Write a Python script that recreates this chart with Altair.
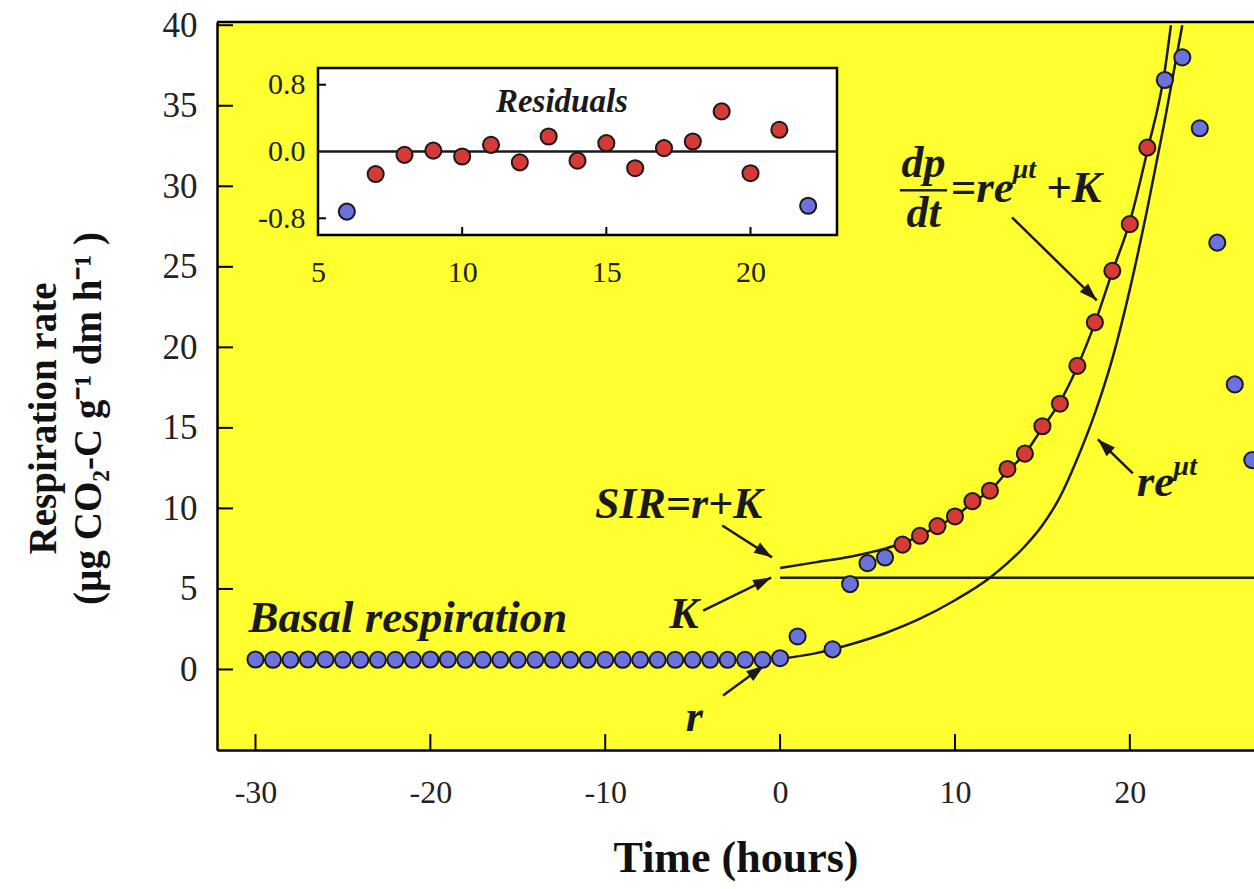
import altair as alt
import pandas as pd

# ---------------- values ----------------
basal_hours = [-30, -29, -28, -27, -26, -25, -24, -23, -22, -21, -20, -19, -18, -17, -16,
               -15, -14, -13, -12, -11, -10, -9, -8, -7, -6, -5, -4, -3, -2, -1, 0]
basal_rate = [0.62, 0.6, 0.6, 0.62, 0.62, 0.6, 0.6, 0.6, 0.6, 0.6, 0.62, 0.62, 0.6, 0.6, 0.6,
              0.6, 0.6, 0.6, 0.6, 0.6, 0.6, 0.6, 0.6, 0.6, 0.6, 0.6, 0.6, 0.6, 0.6, 0.6, 0.7]
early_hours = [1, 3, 4, 5, 6]
early_rate = [2.05, 1.25, 5.3, 6.6, 6.95]
fit_hours = [7, 8, 9, 10, 11, 12, 13, 14, 15, 16, 17, 18, 19, 20, 21]
fit_rate = [7.75, 8.3, 8.9, 9.5, 10.45, 11.1, 12.45, 13.4, 15.1, 16.5, 18.85, 21.55, 24.75, 27.65, 32.4]
late_hours = [22, 23, 24, 25, 26, 27]
late_rate = [36.6, 38.0, 33.6, 26.5, 17.7, 13.0]

res_blue_hours = [6, 22]
res_blue = [-0.72, -0.65]
res_red_hours = [7, 8, 9, 10, 11, 12, 13, 14, 15, 16, 17, 18, 19, 20, 21]
res_red = [-0.27, -0.04, 0.01, -0.06, 0.08, -0.13, 0.18, -0.11, 0.10, -0.20, 0.04, 0.12, 0.48, -0.26, 0.26]

total_curve_hours = [0, 2, 4, 6, 7, 8, 9, 10, 11, 12, 13, 14, 15, 16, 17, 18, 19, 20, 21, 22, 22.35]
total_curve_rate = [6.3, 6.65, 7.0, 7.5, 7.85, 8.3, 8.9, 9.5, 10.35, 11.1, 12.3, 13.4, 15.0, 16.6,
                    18.8, 21.5, 24.7, 27.8, 32.2, 37.2, 40.0]
growth_curve_hours = [0, 2, 4, 6, 8, 10, 12, 13, 14, 15, 16, 17, 18, 19, 20, 21, 22, 23]
growth_curve_rate = [0.65, 1.0, 1.55, 2.25, 3.15, 4.3, 5.7, 6.6, 7.65, 8.95, 10.7, 13.1, 15.9, 19.3,
                     23.6, 28.6, 34.1, 40.0]
k_line_hours = [0, 27.1]
k_line_rate = [5.7, 5.7]

x_ticks = [-30, -20, -10, 0, 10, 20]
y_ticks = [0, 5, 10, 15, 20, 25, 30, 35, 40]
inset_x_labels = [5, 10, 15, 20]
inset_x_ticks = [10, 15, 20]
inset_y_labels = [-0.8, 0.0, 0.8]
inset_y_ticks = [-0.8, 0.8]

# annotations (text, hours, rate)
big_left_text = ["Basal respiration", "=re", "+K", "re"]
big_left_x = [-30.4, 9.75, 15.2, 20.4]
big_left_y = [2.35, 29.0, 29.0, 10.8]
big_center_text = ["SIR=r+K", "K", "r", "dp", "dt"]
big_center_x = [-5.8, -5.5, -4.9, 8.2, 8.2]
big_center_y = [9.4, 2.6, -3.8, 30.6, 27.5]
sup_text = ["μt", "μt"]
sup_x = [13.3, 22.5]
sup_y = [30.5, 12.1]
bar_x = [6.85]
bar_x2 = [9.55]
bar_y = [29.75]
arrow_tail_x = [-3.31, -4.40, -3.26, 13.26, 20.17]
arrow_tail_y = [8.94, 3.66, -1.61, 28.07, 12.17]
arrow_tip_x = [-0.46, -0.51, -0.91, 18.11, 18.17]
arrow_tip_y = [6.96, 5.71, 0.25, 22.92, 14.29]
arrow_angle = [122.6, 64.1, 53.8, 134.3, 314.2]
residual_title = ["Residuals"]
residual_title_x = [13.46]
residual_title_y = [0.47]

# ---------------- styling ----------------
SERIF = "Liberation Serif"
INK = "#1a1a1a"
BLUE = "#6b72dc"
RED = "#d63a36"
YELLOW = "#ffff30"
W, H = 1037, 728
ARROW = "M0,0L0.6,1.8L-0.6,1.8Z"

X_MAIN = alt.Scale(domain=[-32.2, 27.1], nice=False, zero=False)
Y_MAIN = alt.Scale(domain=[-5.0, 40.2], nice=False, zero=False)
X_IN = alt.Scale(domain=[5, 23], range=[101, 620], nice=False, zero=False)
Y_IN = alt.Scale(domain=[-1.0, 1.0], range=[213, 46], nice=False, zero=False)

AX_X = alt.Axis(orient="bottom", values=x_ticks, tickSize=0, grid=False,
                domainColor="black", domainWidth=2.5,
                labelFont=SERIF, labelFontSize=32, labelColor="#222", labelPadding=27,
                labelExpr="'' + datum.value", labelFlush=False, labelOverlap=False,
                title="Time (hours)", titleFont=SERIF, titleFontSize=44,
                titleFontWeight="bold", titleColor="#111", titlePadding=28)
AX_Y = alt.Axis(orient="left", values=y_ticks, tickSize=0, grid=False,
                domainColor="black", domainWidth=2.5,
                labelFont=SERIF, labelFontSize=35, labelColor="#222", labelPadding=20,
                labelFlush=False, labelOverlap=False,
                title=["Respiration rate", "(µg CO₂-C g⁻¹ dm h⁻¹ )"], titleFont=SERIF,
                titleFontSize=39, titleFontWeight="bold", titleColor="#111",
                titlePadding=54, titleLineHeight=45, titleY=396)
AX_XI = alt.Axis(orient="bottom", offset=-(H - 213), values=inset_x_labels, tickSize=0,
                 domain=False, grid=False, labelFont=SERIF, labelFontSize=30,
                 labelColor="#222", labelPadding=22, labelFlush=False, labelOverlap=False,
                 title=None)
AX_YI = alt.Axis(orient="left", offset=-101, values=inset_y_labels, tickSize=0,
                 domain=False, grid=False, format=".1f",
                 labelExpr="replace(datum.label, '\u2212', '-')",
                 labelFont=SERIF, labelFontSize=30, labelColor="#222", labelPadding=13,
                 labelFlush=False, labelOverlap=False, title=None)


def mx(f):
    return alt.X(f"{f}:Q", scale=X_MAIN, axis=AX_X)


def my(f):
    return alt.Y(f"{f}:Q", scale=Y_MAIN, axis=AX_Y)


def ix(f):
    return alt.X(f"{f}:Q", scale=X_IN, axis=AX_XI)


def iy(f):
    return alt.Y(f"{f}:Q", scale=Y_IN, axis=AX_YI)


# ---------------- main panel ----------------
top_border = alt.Chart(pd.DataFrame({"a": [0]})).mark_rule(color="black", strokeWidth=2.5).encode(
    x=alt.value(0), x2=alt.value(W), y=alt.value(0))

xtick_rules = alt.Chart(pd.DataFrame({"t": x_ticks})).mark_rule(color="black", strokeWidth=2).encode(
    x=mx("t"), y=alt.value(H), y2=alt.value(H - 16))
ytick_rules = alt.Chart(pd.DataFrame({"v": y_ticks})).mark_rule(color="black", strokeWidth=2).encode(
    y=my("v"), x=alt.value(0), x2=alt.value(16))

curves_df = pd.DataFrame({
    "t": total_curve_hours + growth_curve_hours + k_line_hours,
    "v": total_curve_rate + growth_curve_rate + k_line_rate,
    "curve": ["total"] * len(total_curve_hours) + ["growth"] * len(growth_curve_hours)
             + ["K"] * len(k_line_hours),
})
curves = alt.Chart(curves_df).mark_line(color=INK, strokeWidth=2.5, interpolate="monotone").encode(
    x=mx("t"), y=my("v"), detail="curve:N")

arrows_df = pd.DataFrame({"x": arrow_tail_x, "y": arrow_tail_y, "x2": arrow_tip_x,
                          "y2": arrow_tip_y, "angle": arrow_angle})
arrow_lines = alt.Chart(arrows_df).mark_rule(color=INK, strokeWidth=2.5).encode(
    x=mx("x"), y=my("y"), x2="x2:Q", y2="y2:Q")
arrow_heads = alt.Chart(arrows_df).mark_point(shape=ARROW, filled=True, size=400, color=INK,
                                              opacity=1).encode(
    x=mx("x2"), y=my("y2"), angle=alt.Angle("angle:Q", scale=None))

pts_df = pd.DataFrame({
    "t": basal_hours + early_hours + fit_hours + late_hours,
    "v": basal_rate + early_rate + fit_rate + late_rate,
    "grp": ["measured"] * (len(basal_hours) + len(early_hours)) + ["fitted"] * len(fit_hours)
           + ["measured"] * len(late_hours),
})
color_scale = alt.Scale(domain=["measured", "fitted"], range=[BLUE, RED])
points = alt.Chart(pts_df).mark_circle(size=260, opacity=1, stroke=INK, strokeWidth=2).encode(
    x=mx("t"), y=my("v"), color=alt.Color("grp:N", scale=color_scale, legend=None))

bar = alt.Chart(pd.DataFrame({"x": bar_x, "x2": bar_x2, "y": bar_y})).mark_rule(
    color=INK, strokeWidth=2.5).encode(x=mx("x"), x2="x2:Q", y=my("y"))


def text_layer(texts, xs, ys, size, align, fx, fy):
    df = pd.DataFrame({"label": texts, "x": xs, "y": ys})
    return alt.Chart(df).mark_text(font=SERIF, fontSize=size, fontStyle="italic",
                                   fontWeight="bold", align=align, baseline="alphabetic",
                                   color=INK).encode(x=fx("x"), y=fy("y"), text="label:N")


txt_left = text_layer(big_left_text, big_left_x, big_left_y, 45, "left", mx, my)
txt_center = text_layer(big_center_text, big_center_x, big_center_y, 44, "center", mx, my)
txt_sup = text_layer(sup_text, sup_x, sup_y, 28, "left", mx, my)

main = alt.layer(top_border, xtick_rules, ytick_rules, curves, arrow_lines, arrow_heads,
                 points, bar, txt_left, txt_center, txt_sup)

# ---------------- inset ----------------
box = alt.Chart(pd.DataFrame({"x0": [5], "x1": [23], "y0": [-1.0], "y1": [1.0]})).mark_rect(
    fill="white", stroke="black", strokeWidth=2.5).encode(
    x=ix("x0"), x2="x1:Q", y=iy("y0"), y2="y1:Q")
zero_line = alt.Chart(pd.DataFrame({"x0": [5], "x1": [23], "y": [0.0]})).mark_rule(
    color=INK, strokeWidth=2.5).encode(x=ix("x0"), x2="x1:Q", y=iy("y"))
in_xticks = alt.Chart(pd.DataFrame({"t": inset_x_ticks})).mark_rule(color="black", strokeWidth=2).encode(
    x=ix("t"), y=alt.value(213), y2=alt.value(205))
in_yticks = alt.Chart(pd.DataFrame({"v": inset_y_ticks})).mark_rule(color="black", strokeWidth=2).encode(
    y=iy("v"), x=alt.value(101), x2=alt.value(109))
res_df = pd.DataFrame({
    "t": res_blue_hours + res_red_hours,
    "r": res_blue + res_red,
    "grp": ["measured"] * len(res_blue_hours) + ["fitted"] * len(res_red_hours),
})
res_points = alt.Chart(res_df).mark_circle(size=260, opacity=1, stroke=INK, strokeWidth=2).encode(
    x=ix("t"), y=iy("r"), color=alt.Color("grp:N", scale=color_scale, legend=None))
res_title = text_layer(residual_title, residual_title_x, residual_title_y, 33, "center", ix, iy)

inset = alt.layer(box, zero_line, in_xticks, in_yticks, res_points, res_title)

chart = alt.layer(main, inset).resolve_scale(x="independent", y="independent").properties(
    width=W, height=H,
    padding={"left": 217, "top": 22, "right": 0, "bottom": 139},
    autosize=alt.AutoSizeParams(type="none"),
    background="white",
).configure_view(fill=YELLOW, stroke="transparent")

chart.save("out.html", embed_options={"renderer": "svg", "actions": False})
